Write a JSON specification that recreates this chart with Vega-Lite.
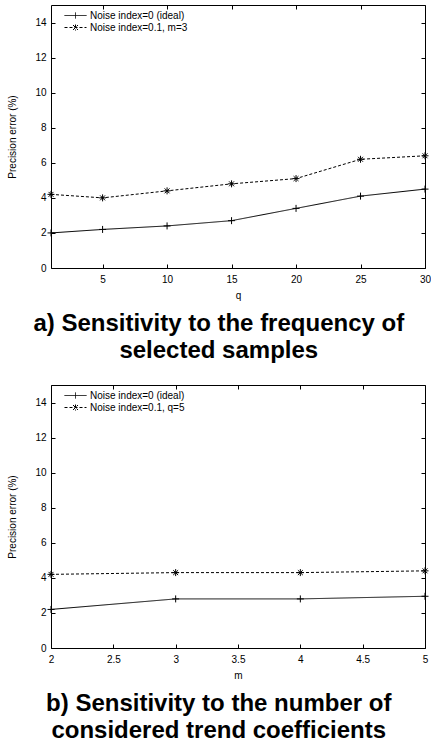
{
  "$schema": "https://vega.github.io/schema/vega-lite/v6.json",
  "padding": {"left": 6, "top": 4, "right": 0, "bottom": 0},
  "background": "white",
  "spacing": 20,
  "resolve": {
    "scale": {"strokeDash": "independent", "shape": "independent"},
    "legend": {"strokeDash": "independent", "shape": "independent"}
  },
  "config": {
    "font": "Liberation Sans",
    "view": {"stroke": "black", "strokeWidth": 1},
    "axis": {
      "grid": false,
      "domain": false,
      "tickColor": "black",
      "tickSize": -4,
      "labelColor": "black",
      "labelFont": "Liberation Sans",
      "labelFontSize": 10,
      "labelFlush": false,
      "titleFont": "Liberation Sans",
      "titleFontSize": 10,
      "titleFontWeight": "normal",
      "titleColor": "black"
    },
    "title": {
      "font": "Liberation Sans",
      "fontSize": 24,
      "fontWeight": "bold",
      "color": "black",
      "orient": "bottom",
      "anchor": "middle",
      "frame": "bounds",
      "lineHeight": 27,
      "offset": 12
    },
    "legend": {
      "orient": "none",
      "legendX": 19,
      "legendY": 5,
      "padding": 0,
      "labelFont": "Liberation Sans",
      "labelFontSize": 10,
      "labelColor": "black",
      "symbolSize": 100,
      "symbolStrokeColor": "black",
      "symbolStrokeWidth": 1,
      "rowPadding": 1,
      "labelOffset": 9
    }
  },
  "datasets": {
    "a": [
      {"q": 1, "series": "Noise index=0 (ideal)", "error": 2.0},
      {"q": 5, "series": "Noise index=0 (ideal)", "error": 2.2},
      {"q": 10, "series": "Noise index=0 (ideal)", "error": 2.4},
      {"q": 15, "series": "Noise index=0 (ideal)", "error": 2.7},
      {"q": 20, "series": "Noise index=0 (ideal)", "error": 3.4},
      {"q": 25, "series": "Noise index=0 (ideal)", "error": 4.1},
      {"q": 30, "series": "Noise index=0 (ideal)", "error": 4.5},
      {"q": 1, "series": "Noise index=0.1, m=3", "error": 4.2},
      {"q": 5, "series": "Noise index=0.1, m=3", "error": 4.0},
      {"q": 10, "series": "Noise index=0.1, m=3", "error": 4.4},
      {"q": 15, "series": "Noise index=0.1, m=3", "error": 4.8},
      {"q": 20, "series": "Noise index=0.1, m=3", "error": 5.1},
      {"q": 25, "series": "Noise index=0.1, m=3", "error": 6.2},
      {"q": 30, "series": "Noise index=0.1, m=3", "error": 6.4}
    ],
    "b": [
      {"m": 2, "series": "Noise index=0 (ideal)", "error": 2.2},
      {"m": 3, "series": "Noise index=0 (ideal)", "error": 2.8},
      {"m": 4, "series": "Noise index=0 (ideal)", "error": 2.8},
      {"m": 5, "series": "Noise index=0 (ideal)", "error": 2.95},
      {"m": 2, "series": "Noise index=0.1, q=5", "error": 4.2},
      {"m": 3, "series": "Noise index=0.1, q=5", "error": 4.3},
      {"m": 4, "series": "Noise index=0.1, q=5", "error": 4.3},
      {"m": 5, "series": "Noise index=0.1, q=5", "error": 4.4}
    ]
  },
  "vconcat": [
    {
      "width": 374,
      "height": 263,
      "data": {"name": "a"},
      "title": {"text": ["a) Sensitivity to the frequency of", "selected samples"]},
      "resolve": {"axis": {"x": "independent", "y": "independent"}},
      "layer": [
        {
          "mark": {"type": "line", "color": "black", "strokeWidth": 1},
          "encoding": {
            "x": {"field": "q", "type": "quantitative", "scale": {"domain": [1, 30], "nice": false, "zero": false},
                  "axis": {"orient": "bottom", "values": [5, 10, 15, 20, 25, 30], "title": "q", "labelPadding": 10, "titlePadding": 6}},
            "y": {"field": "error", "type": "quantitative", "scale": {"domain": [0, 15], "nice": false},
                  "axis": {"orient": "left", "values": [0, 2, 4, 6, 8, 10, 12, 14], "title": "Precision error (%)", "labelPadding": 9, "titlePadding": 9, "minExtent": 25, "maxExtent": 25}},
            "strokeDash": {"field": "series", "type": "nominal",
              "scale": {"range": [[1, 0], [3, 2]]},
              "legend": {"title": null,
                "encode": {"symbols": {"update": {"shape": {"signal": "indexof(datum.value, 'ideal') >= 0 ? 'M-2.2,0H2.2M0,-0.6V0.6' : 'M-2.2,0H2.2M0,-0.6V0.6M-0.5,-0.5L0.5,0.5M-0.5,0.5L0.5,-0.5'"}}}}}
            }
          }
        },
        {
          "mark": {"type": "point", "color": "black", "filled": false, "strokeWidth": 1, "size": 49, "opacity": 1},
          "encoding": {
            "x": {"field": "q", "type": "quantitative",
                  "axis": {"orient": "top", "values": [5, 10, 15, 20, 25, 30], "labels": false, "title": null, "minExtent": 0, "maxExtent": 0}},
            "y": {"field": "error", "type": "quantitative",
                  "axis": {"orient": "right", "values": [0, 2, 4, 6, 8, 10, 12, 14], "labels": false, "title": null, "minExtent": 0, "maxExtent": 0}},
            "shape": {"field": "series", "type": "nominal",
              "scale": {"range": ["M-1,0H1M0,-1V1", "M-1,0H1M0,-1V1M-0.7,-0.7L0.7,0.7M-0.7,0.7L0.7,-0.7"]},
              "legend": null}
          }
        }
      ]
    },
    {
      "width": 374,
      "height": 263,
      "data": {"name": "b"},
      "title": {"text": ["b) Sensitivity to the number of", "considered trend coefficients"]},
      "resolve": {"axis": {"x": "independent", "y": "independent"}},
      "layer": [
        {
          "mark": {"type": "line", "color": "black", "strokeWidth": 1},
          "encoding": {
            "x": {"field": "m", "type": "quantitative", "scale": {"domain": [2, 5], "nice": false, "zero": false},
                  "axis": {"orient": "bottom", "values": [2, 2.5, 3, 3.5, 4, 4.5, 5], "format": "~g", "title": "m", "labelPadding": 10, "titlePadding": 6}},
            "y": {"field": "error", "type": "quantitative", "scale": {"domain": [0, 15], "nice": false},
                  "axis": {"orient": "left", "values": [0, 2, 4, 6, 8, 10, 12, 14], "title": "Precision error (%)", "labelPadding": 9, "titlePadding": 9, "minExtent": 25, "maxExtent": 25}},
            "strokeDash": {"field": "series", "type": "nominal",
              "scale": {"range": [[1, 0], [3, 2]]},
              "legend": {"title": null,
                "encode": {"symbols": {"update": {"shape": {"signal": "indexof(datum.value, 'ideal') >= 0 ? 'M-2.2,0H2.2M0,-0.6V0.6' : 'M-2.2,0H2.2M0,-0.6V0.6M-0.5,-0.5L0.5,0.5M-0.5,0.5L0.5,-0.5'"}}}}}
            }
          }
        },
        {
          "mark": {"type": "point", "color": "black", "filled": false, "strokeWidth": 1, "size": 49, "opacity": 1},
          "encoding": {
            "x": {"field": "m", "type": "quantitative",
                  "axis": {"orient": "top", "values": [2, 2.5, 3, 3.5, 4, 4.5, 5], "labels": false, "title": null, "minExtent": 0, "maxExtent": 0}},
            "y": {"field": "error", "type": "quantitative",
                  "axis": {"orient": "right", "values": [0, 2, 4, 6, 8, 10, 12, 14], "labels": false, "title": null, "minExtent": 0, "maxExtent": 0}},
            "shape": {"field": "series", "type": "nominal",
              "scale": {"range": ["M-1,0H1M0,-1V1", "M-1,0H1M0,-1V1M-0.7,-0.7L0.7,0.7M-0.7,0.7L0.7,-0.7"]},
              "legend": null}
          }
        }
      ]
    }
  ]
}
